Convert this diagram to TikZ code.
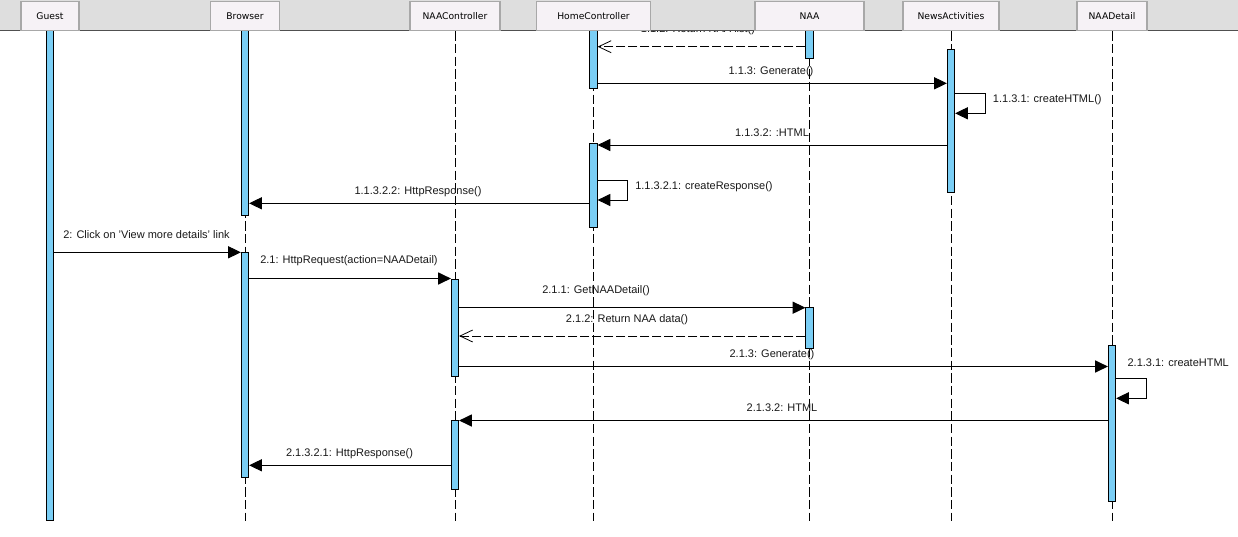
\documentclass[tikz,border=0pt]{standalone}
\usepackage{fontspec}
\setmainfont{Liberation Sans}
\newfontfamily\hdrfont{DejaVu Sans}
\usetikzlibrary{arrows.meta,fit}
\definecolor{bandgray}{RGB}{222,222,222}
\definecolor{bandline}{RGB}{80,80,80}
\definecolor{boxfill}{RGB}{246,242,246}
\definecolor{boxline}{RGB}{168,168,168}
\definecolor{barblue}{RGB}{122,206,245}
\definecolor{txt}{RGB}{25,25,25}
% activation bar: name, lifeline x, top y, bottom y
\newcommand\actbar[4]{\node[bar, fit={(#2-3.6,#3)(#2+3.6,#4)}] (#1) {};}
\begin{document}
\begin{tikzpicture}[x=0.75pt,y=-0.75pt,
  hdr/.style={draw=boxline, line width=1.1pt, fill=boxfill, minimum height=22pt,
    inner sep=0pt, anchor=north, text=black,
    font=\hdrfont\fontsize{6.9pt}{8pt}\selectfont},
  life/.style={line width=0.75pt, dash pattern=on 7pt off 2.5pt},
  bar/.style={draw=black, line width=0.75pt, fill=barblue, inner sep=0pt},
  msg/.style={line width=0.75pt, -{Triangle[length=9.5pt,width=9pt]}},
  ret/.style={line width=0.75pt, dash pattern=on 6.75pt off 2.25pt,
    -{Straight Barb[length=9.5pt,width=9pt,line width=0.6pt]}},
  lbl/.style={inner sep=0pt, text=txt, font=\fontsize{8.25pt}{10pt}\selectfont}]
\useasboundingbox (0,0) rectangle (1238,536);
\fill[white] (0,0) rectangle (1238,536);

% header nodes (drawn now for positions, redrawn on top later)
\path (50,0.5)     node[hdr, minimum width=43.5pt]  (hG)  {}
      (245,0.5)    node[hdr, minimum width=51.75pt] (hB)  {}
      (455,0.5)    node[hdr, minimum width=67.5pt]  (hNC) {}
      (593.5,0.5)  node[hdr, minimum width=85.5pt]  (hHC) {}
      (809.5,0.5)  node[hdr, minimum width=81.75pt] (hN)  {}
      (951,0.5)    node[hdr, minimum width=72pt]    (hNA) {}
      (1112,0.5)   node[hdr, minimum width=52.5pt]  (hND) {};

% lifelines
\foreach \h in {hB,hNC,hHC,hN,hNA,hND}
  \draw[life] (\h.south) -- (\h.south |- 0,521);

% activation bars
\actbar{gst}{50}{25}{520}
\actbar{br1}{245}{25}{215.3}
\actbar{br2}{245}{252.3}{477.3}
\actbar{nc1}{455}{279.3}{376.7}
\actbar{nc2}{455}{420.7}{489.3}
\actbar{hc1}{593.5}{25}{88.3}
\actbar{hc2}{593.5}{143.3}{227.3}
\actbar{naa1}{809.5}{25}{58.3}
\actbar{naa2}{809.5}{307.7}{348.3}
\actbar{na1}{951}{49.3}{192.3}
\actbar{nd1}{1112}{345}{501}

% messages of the home page
\draw[ret] (naa1.west |- 0,46.7) -- (hc1.east |- 0,46.7);
\node[lbl] (l112) at (698,29.5) {1.1.2: Return NAA list()};
\draw[msg] (hc1.east |- 0,83.3) -- (na1.west |- 0,83.3);
\node[lbl] (l113) at (771,72) {1.1.3: Generate()};
\draw[msg] (na1.east |- 0,93.3) -- ++(30,0) |- (na1.east |- 0,113.3);
\node[lbl, anchor=west] (l1131) at (992.7,99.3) {1.1.3.1: createHTML()};
\draw[msg] (na1.west |- 0,145) -- (hc2.east |- 0,145);
\node[lbl] (l1132) at (772,133) {1.1.3.2: :HTML};
\draw[msg] (hc2.east |- 0,180.5) -- ++(30,0) |- (hc2.east |- 0,200);
\node[lbl, anchor=west] (l11321) at (635,187) {1.1.3.2.1: createResponse()};
\draw[msg] (hc2.west |- 0,203.3) -- (br1.east |- 0,203.3);
\node[lbl] (l11322) at (418,191.7) {1.1.3.2.2: HttpResponse()};

% messages of the detail page
\draw[msg] (gst.east |- 0,252.3) -- (br2.west |- 0,252.3);
\node[lbl, anchor=west] (l2) at (63,234.3) {2: Click on 'View more details' link};
\draw[msg] (br2.east |- 0,278.5) -- (nc1.west |- 0,278.5);
\node[lbl, anchor=west] (l21) at (260,260.3) {2.1: HttpRequest(action=NAADetail)};
\draw[msg] (nc1.east |- 0,307.7) -- (naa2.west |- 0,307.7);
\node[lbl] (l211) at (596,291) {2.1.1: GetNAADetail()};
\draw[ret] (naa2.west |- 0,336) -- (nc1.east |- 0,336);
\node[lbl] (l212) at (627,320) {2.1.2: Return NAA data()};
\draw[msg] (nc1.east |- 0,366.5) -- (nd1.west |- 0,366.5);
\node[lbl] (l213) at (772,355) {2.1.3: Generate()};
\draw[msg] (nd1.east |- 0,378.3) -- ++(30,0) |- (nd1.east |- 0,398.3);
\node[lbl, anchor=west] (l2131) at (1127.3,362.3) {2.1.3.1: createHTML};
\draw[msg] (nd1.west |- 0,420.5) -- (nc2.east |- 0,420.5);
\node[lbl] (l2132) at (782,408) {2.1.3.2: HTML};
\draw[msg] (nc2.west |- 0,465.3) -- (br2.east |- 0,465.3);
\node[lbl] (l21321) at (349.5,453.3) {2.1.3.2.1: HttpResponse()};

% header band on top
\fill[bandgray] (0,0) rectangle (1238,30.3);
\draw[bandline, line width=1pt] (0,30.6) -- (1238,30.6);
\path (50,0.5)     node[hdr, minimum width=43.5pt]  {Guest}
      (245,0.5)    node[hdr, minimum width=51.75pt] {Browser}
      (455,0.5)    node[hdr, minimum width=67.5pt]  {NAAController}
      (593.5,0.5)  node[hdr, minimum width=85.5pt]  {HomeController}
      (809.5,0.5)  node[hdr, minimum width=81.75pt] {NAA}
      (951,0.5)    node[hdr, minimum width=72pt]    {NewsActivities}
      (1112,0.5)   node[hdr, minimum width=52.5pt]  {NAADetail};
\end{tikzpicture}
\end{document}
